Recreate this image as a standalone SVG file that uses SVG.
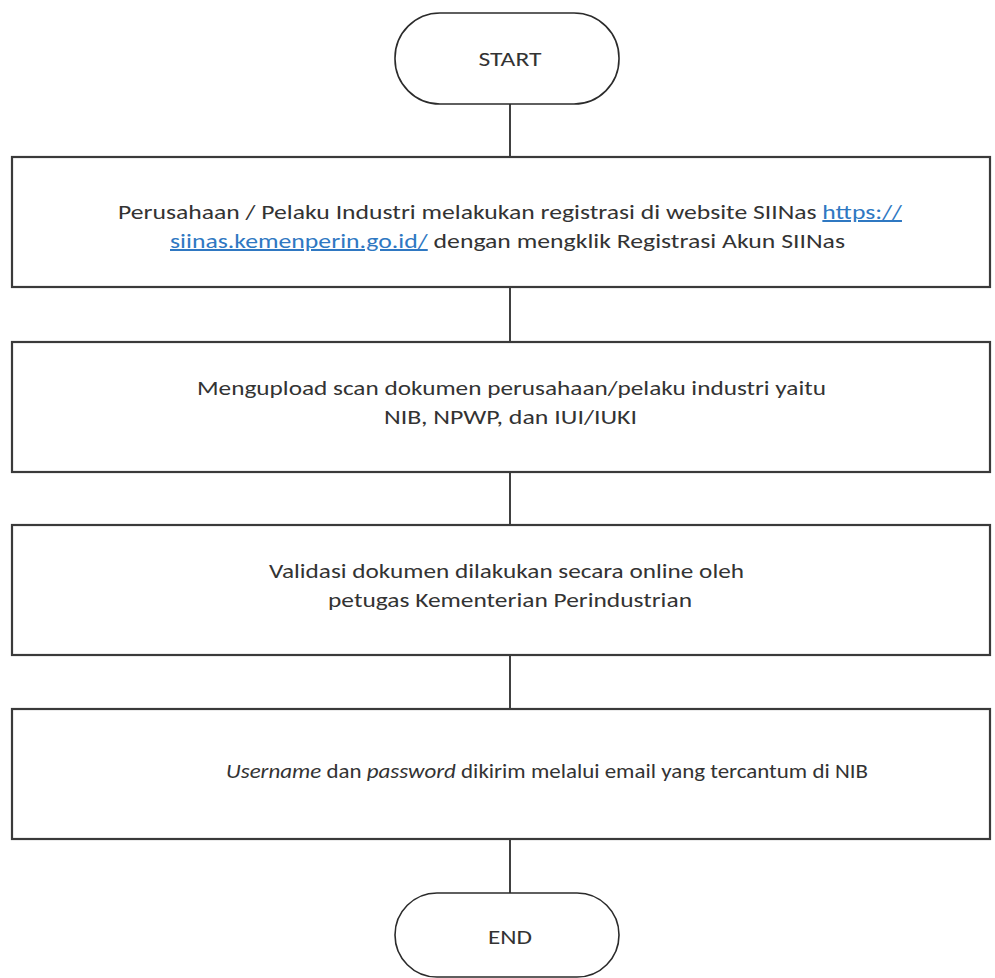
<svg xmlns="http://www.w3.org/2000/svg" width="995" height="978" viewBox="0 0 995 978">
<style>
.bg{fill:#ffffff}
.term{fill:#ffffff;stroke:#2b2b2b;stroke-width:1.6}
.box{fill:#ffffff;stroke:#3a3a3a;stroke-width:2.2}
.conn{stroke:#111111;stroke-width:1.6;fill:none}
.t{font-family:Carlito,Calibri,Lato,"Liberation Sans",sans-serif;font-size:20px;fill:#333333}
.c{text-anchor:middle}
.lnk{fill:#2f78c2;text-decoration:underline}
.i{font-style:italic}
</style>
<rect class="bg" x="0" y="0" width="995" height="978"/>
<g id="connectors">
<line class="conn" x1="510" y1="104" x2="510" y2="157"/>
<line class="conn" x1="510" y1="287" x2="510" y2="342"/>
<line class="conn" x1="510" y1="472" x2="510" y2="525"/>
<line class="conn" x1="510" y1="655" x2="510" y2="709"/>
<line class="conn" x1="510" y1="839" x2="510" y2="893"/>
</g>
<g id="start">
<rect class="term" x="395" y="13" width="224" height="91" rx="45" ry="45"/>
<text class="t c" x="510" y="66" textLength="63" lengthAdjust="spacingAndGlyphs">START</text>
</g>
<g id="step1">
<rect class="box" x="12" y="157" width="978" height="130"/>
<text class="t" x="118" y="219" textLength="784" lengthAdjust="spacingAndGlyphs">Perusahaan / Pelaku Industri melakukan registrasi di website SIINas <tspan class="lnk">https://</tspan></text>
<text class="t" x="170" y="248" textLength="675" lengthAdjust="spacingAndGlyphs"><tspan class="lnk">siinas.kemenperin.go.id/</tspan> dengan mengklik Registrasi Akun SIINas</text>
</g>
<g id="step2">
<rect class="box" x="12" y="342" width="978" height="130"/>
<text class="t" x="197" y="395" textLength="629" lengthAdjust="spacingAndGlyphs">Mengupload scan dokumen perusahaan/pelaku industri yaitu</text>
<text class="t" x="384" y="424" textLength="253" lengthAdjust="spacingAndGlyphs">NIB, NPWP, dan IUI/IUKI</text>
</g>
<g id="step3">
<rect class="box" x="12" y="525" width="978" height="130"/>
<text class="t" x="269" y="578" textLength="475" lengthAdjust="spacingAndGlyphs">Validasi dokumen dilakukan secara online oleh</text>
<text class="t" x="328" y="607" textLength="364" lengthAdjust="spacingAndGlyphs">petugas Kementerian Perindustrian</text>
</g>
<g id="step4">
<rect class="box" x="12" y="709" width="978" height="130"/>
<text class="t" x="226" y="778" textLength="642" lengthAdjust="spacingAndGlyphs"><tspan class="i">Username</tspan> dan <tspan class="i">password</tspan> dikirim melalui email yang tercantum di NIB</text>
</g>
<g id="end">
<rect class="term" x="395" y="893" width="224" height="84" rx="42" ry="42"/>
<text class="t c" x="510" y="944" textLength="44" lengthAdjust="spacingAndGlyphs">END</text>
</g>
</svg>
